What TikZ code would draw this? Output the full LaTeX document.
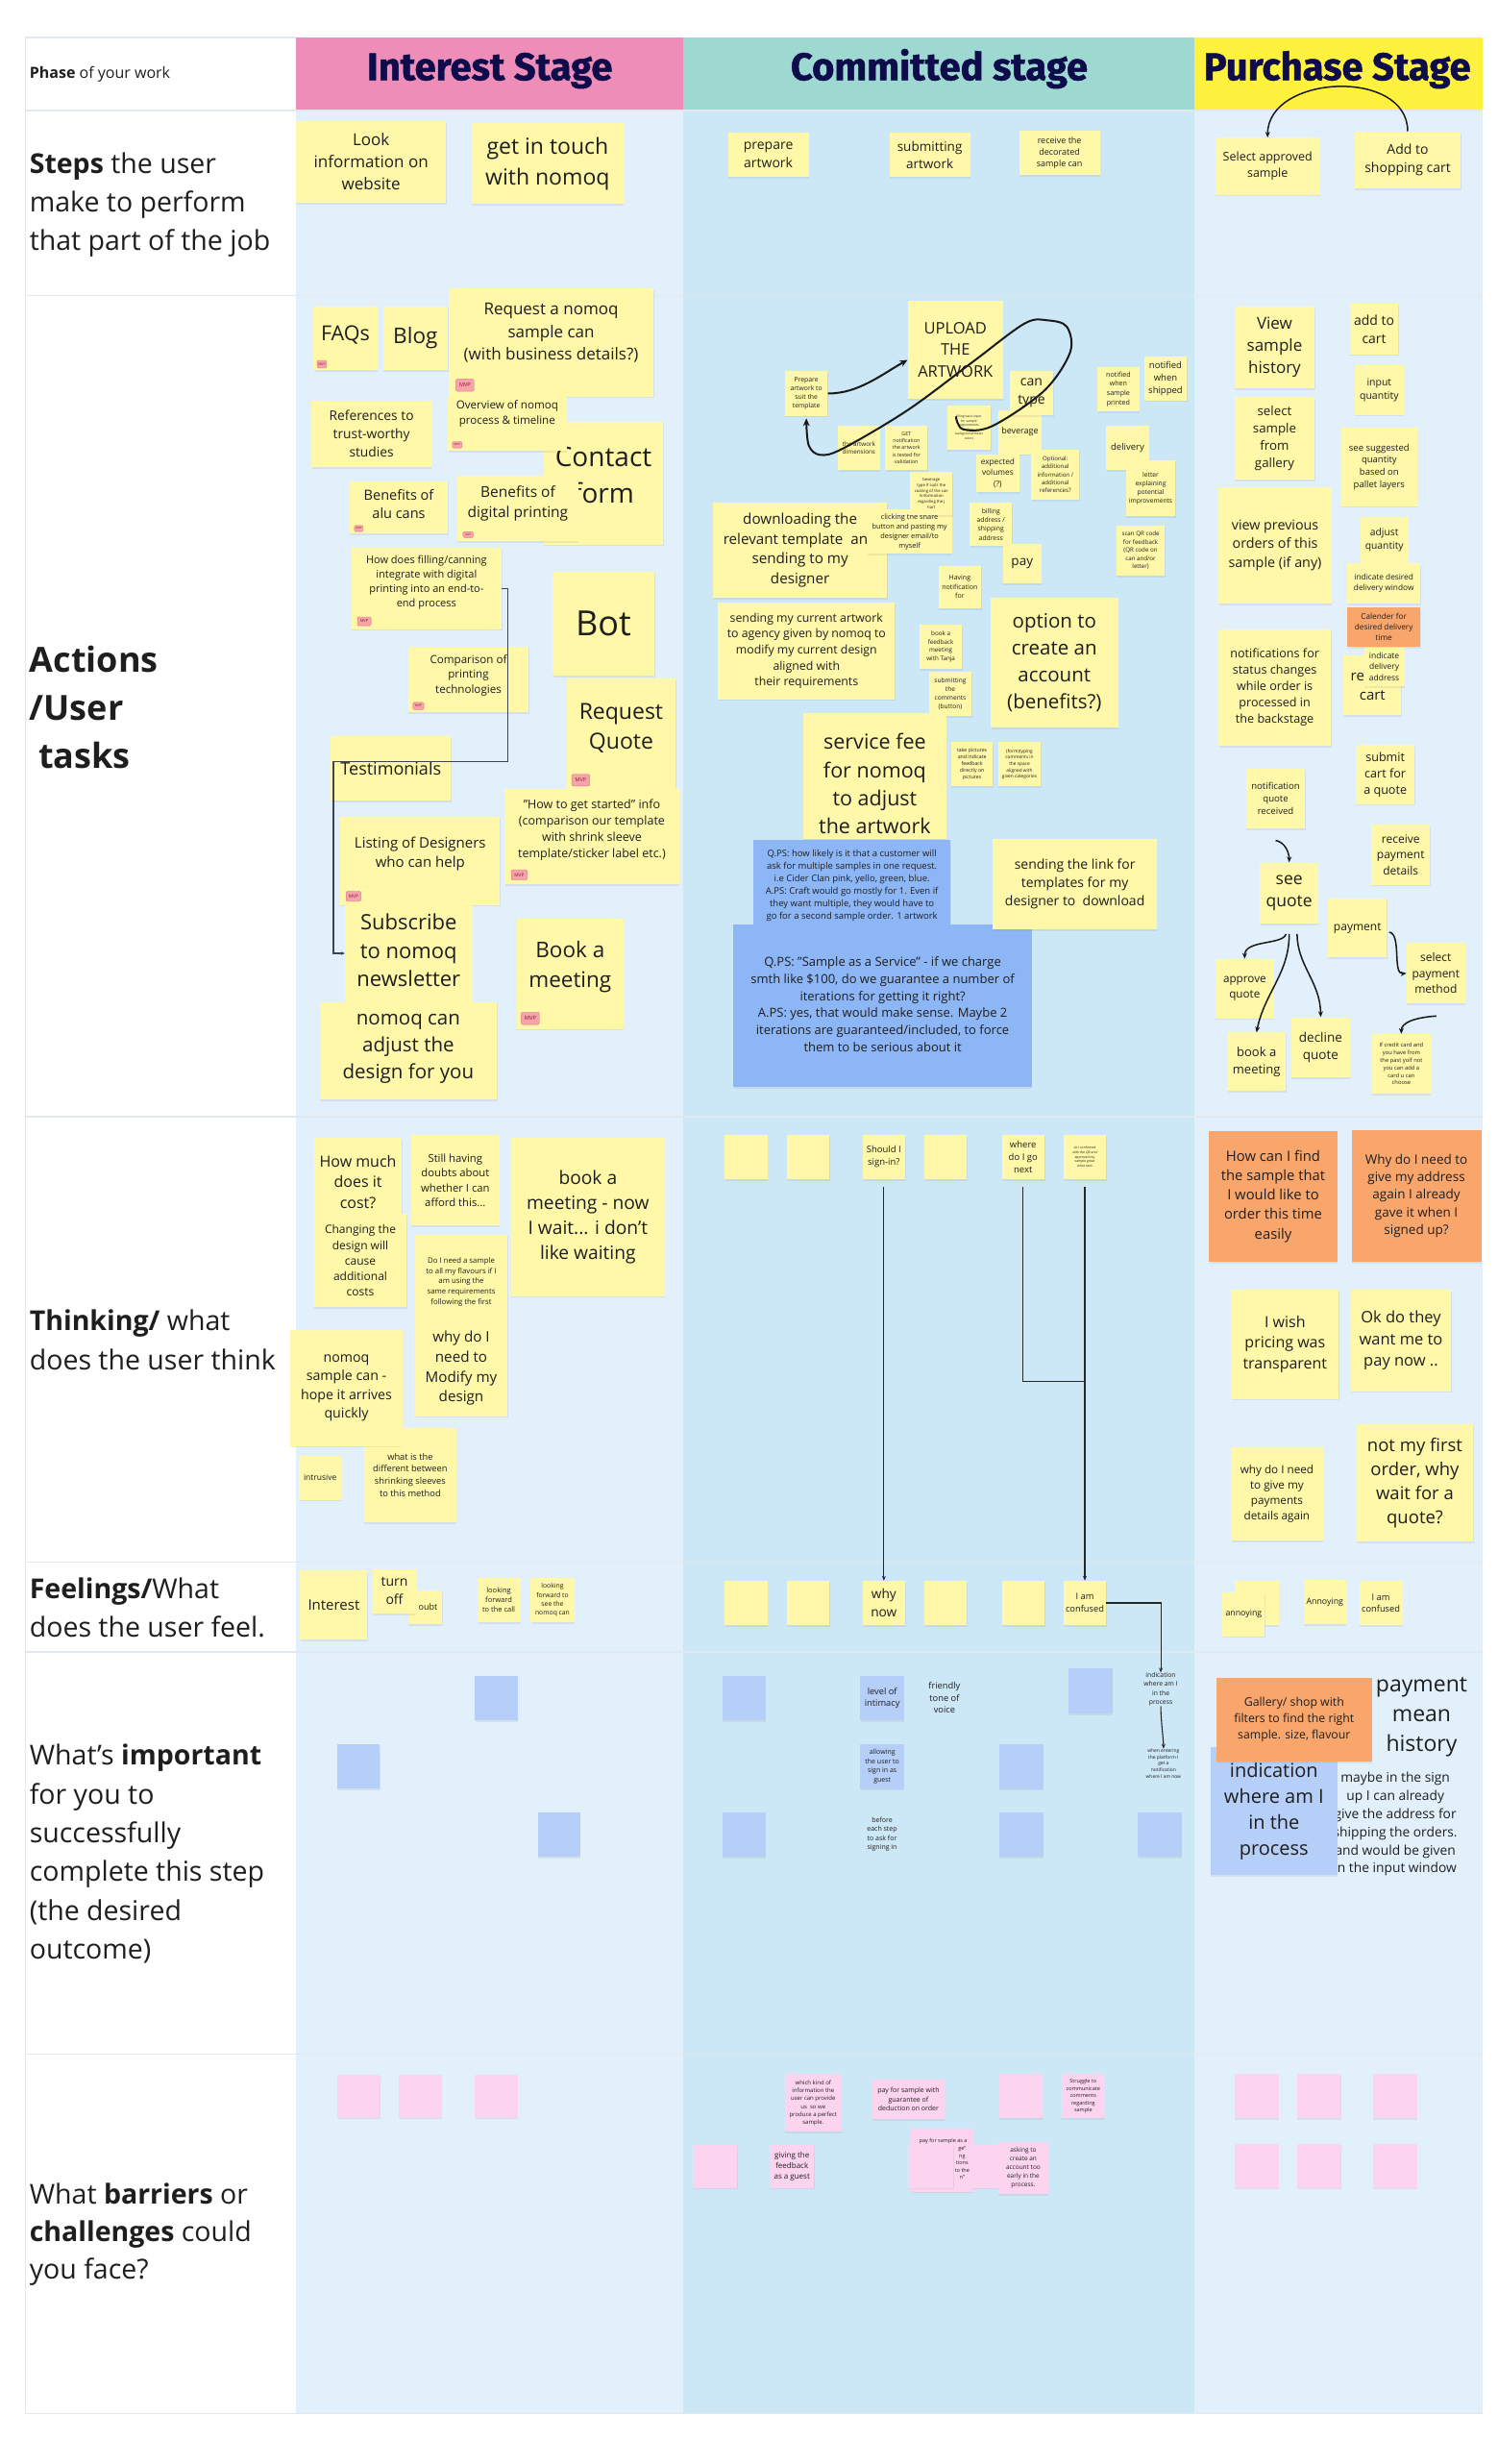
\documentclass[tikz,border=0pt]{standalone}
\usepackage{fontspec}
\setmainfont{Open Sans}
\newfontfamily\headfont{Fira Sans}[FakeBold=1.2]
\usetikzlibrary{shadows,calc,arrows.meta}
\def\unitf{1.647}
\definecolor{yelN}{HTML}{FFF8A8}
\definecolor{orgN}{HTML}{F9A66C}
\definecolor{qbN}{HTML}{8DB6F7}
\definecolor{lbN}{HTML}{B5CFF8}
\definecolor{pkN}{HTML}{FDD4EF}
\definecolor{bgA}{HTML}{E1F0FA}
\definecolor{bgB}{HTML}{CCE7F6}
\definecolor{hpink}{HTML}{EE8EB8}
\definecolor{hteal}{HTML}{9DD9D1}
\definecolor{hyel}{HTML}{FEF23F}
\definecolor{navy}{HTML}{0E0C4B}
\definecolor{gridC}{HTML}{E3E8EC}
\definecolor{txtC}{HTML}{1E1E1E}
\definecolor{mvpF}{HTML}{F5A4AC}
\definecolor{mvpD}{HTML}{E07A85}
\definecolor{mvpT}{HTML}{8B1A2B}
\definecolor{elbC}{HTML}{3D4450}
\tikzset{
  sticky/.style={inner sep=0pt, draw=none, drop shadow={opacity=0.13, shadow xshift=0.5pt, shadow yshift=-1.8pt}},
  ny/.style={sticky, fill=yelN},
  nor/.style={sticky, fill=orgN},
  nqb/.style={sticky, fill=qbN},
  nlb/.style={sticky, fill=lbN},
  npk/.style={sticky, fill=pkN},
  ntext/.style={inner sep=0pt, align=center, text=txtC},
  lab/.style={inner sep=0pt, align=left, anchor=west, text=txtC},
  mvptag/.style={inner sep=0pt, rounded corners=1.2pt, fill=mvpF, draw=mvpD, line width=0.4pt, text=mvpT},
  hdr/.style={inner sep=0pt, anchor=base, text=navy, font=\headfont\bfseries\fontsize{40}{48}\selectfont},
  gridl/.style={draw=gridC, line width=1.3pt},
  carr/.style={draw=black!90, line width=1.5pt, -{Stealth[length=6pt,width=5pt]}},
  loopa/.style={draw=black!90, line width=2pt, -{Stealth[length=8pt,width=7pt]}},
  arr/.style={draw=black!85, line width=1.1pt, -{Stealth[length=5pt,width=4pt]}},
  lnn/.style={draw=black!85, line width=1.1pt},
  elb/.style={draw=elbC, line width=1.4pt, -{Stealth[length=4pt,width=3.5pt]}},
}
% sticky note: [text y offset]{name}{x1}{y1}{x2}{y2}{style}{font size}{text}
\newcommand\snote[9][0]{%
  \pgfmathsetlengthmacro\nw{(#5-#3)*\unitf}%
  \pgfmathsetlengthmacro\nh{(#6-#4)*\unitf}%
  \pgfmathsetmacro\bsk{#8*1.36}%
  \node[#7,minimum width=\nw,minimum height=\nh] (#2) at ({(#3+#5)/2},{(#4+#6)/2}) {};
  \node[ntext,font=\fontsize{#8}{\bsk}\selectfont] (#2-t) at ({(#3+#5)/2},{(#4+#6)/2+#1}) {#9};}
% free text: {name}{x}{y}{size}{text}
\newcommand\ptext[5]{%
  \pgfmathsetmacro\bsk{#4*1.36}%
  \node[ntext,font=\fontsize{#4}{\bsk}\selectfont] (#1) at (#2,#3) {#5};}
% MVP tag
\newcommand\mvp[5]{%
  \pgfmathsetlengthmacro\nw{(#4-#2)*\unitf}%
  \pgfmathsetlengthmacro\nh{(#5-#3)*\unitf}%
  \pgfmathsetmacro\mf{(#5-#3)*\unitf*0.45}%
  \node[mvptag,minimum width=\nw,minimum height=\nh,font=\fontsize{\mf}{\mf}\selectfont] (#1) at ({(#2+#4)/2},{(#3+#5)/2}) {MVP};}
\begin{document}
\begin{tikzpicture}[x=1.647pt,y=-1.647pt]
\useasboundingbox (0,0) rectangle (946.57,1556.8);
\fill[white] (0,0) rectangle (946.57,1556.8);
% ---------- backgrounds
\fill[bgA] (187,69.8) rectangle (432,1525);
\fill[bgB] (432,69.8) rectangle (755,1525);
\fill[bgA] (755,69.8) rectangle (937,1525);
\fill[hpink] (187,23.7) rectangle (432,69.8);
\fill[hteal] (432,23.7) rectangle (755,69.8);
\fill[hyel] (755,23.7) rectangle (937,69.8);
\foreach \yy in {69.8,186.5,705.5,987,1043.7,1298,1525} \draw[gridl] (16,\yy) -- (937,\yy);
\draw[gridl] (16,23.7) -- (187,23.7);
\draw[gridl] (16,23.7) -- (16,1525);
% ---------- headers
\node[hdr] (hint) at (309.5,50.6) {Interest Stage};
\node[hdr] (hcom) at (593.5,50.6) {Committed stage};
\node[hdr] (hpur) at (845,50.6) {Purchase Stage};
% ---------- row labels
\node[lab,font=\fontsize{16}{20}\selectfont] (lphase) at (18.6,47) {\textbf{Phase} of your work};
\node[lab,font=\fontsize{28.5}{40}\selectfont] (lsteps) at (18.6,129.5) {\textbf{Steps} the user\\make to perform\\that part of the job};
\node[lab,font=\bfseries\fontsize{36}{50}\selectfont] (lact) at (18.6,447) {Actions\\/User\\~tasks};
\node[lab,font=\fontsize{28.5}{41}\selectfont] (lthink) at (18.6,846.5) {\textbf{Thinking/} what\\does the user think};
\node[lab,font=\fontsize{28.5}{40}\selectfont] (lfeel) at (18.6,1016) {\textbf{Feelings/}What\\does the user feel.};
\node[lab,font=\fontsize{28.5}{40.4}\selectfont] (limp) at (18.6,1171.3) {What's \textbf{important}\\for you to\\successfully\\complete this step\\(the desired\\outcome)};
\node[lab,font=\fontsize{28.5}{39}\selectfont] (lbar) at (18.6,1411.5) {What \textbf{barriers} or\\\textbf{challenges} could\\you face?};
% ---------- steps row
\snote{look}{187}{76.5}{282}{128}{ny}{17}{Look\\information on\\website}
\snote{touch}{298}{78}{394}{129}{ny}{23}{get in touch\\with nomoq}
\snote{prepa}{460}{84}{511}{112}{ny}{14}{prepare\\artwork}
\snote{subma}{562}{84}{613}{112}{ny}{13.5}{submitting\\artwork}
\snote{recv}{644}{82.5}{695}{110.5}{ny}{9}{receive the\\decorated\\sample can}
\snote{selap}{768}{87}{834}{123}{ny}{12.5}{Select approved\\sample}
\snote{addsc}{856}{83}{923}{119}{ny}{14}{Add to\\shopping cart}
\draw[carr] (addsc.north) .. controls +(0,-40) and +(0,-40) .. (selap.north);
% ---------- interest actions
\snote[-2]{faq}{198}{193.4}{238.5}{234}{ny}{21.5}{FAQs}
\snote{blog}{242}{193.4}{283}{234}{ny}{22.5}{Blog}
\snote[-6]{reqs}{283.5}{182}{413}{250.5}{ny}{17}{Request a nomoq\\sample can\\(with business details?)}
\snote{refs}{197}{253}{272.5}{295}{ny}{13.8}{References to\\trust-worthy\\studies}
\snote[-5]{contact}{343.6}{266.6}{419}{344}{ny}{28}{Contact\\form}
\snote[-6.5]{overview}{283}{251}{358}{285}{ny}{11.6}{Overview of nomoq\\process \& timeline}
\snote[-2]{alu}{221}{304}{283}{337}{ny}{14.5}{Benefits of\\alu cans}
\snote[-3]{digital}{289}{300.6}{365.5}{342}{ny}{15.5}{Benefits of\\digital printing}
\snote[-3.5]{filling}{222}{346}{317}{397.5}{ny}{11}{How does filling/canning\\integrate with digital\\printing into an end-to-\\end process}
\snote{bot}{349}{361}{413.5}{427}{ny}{36}{Bot}
\snote[-2.5]{compar}{258}{408.6}{334}{450}{ny}{11.6}{Comparison of\\printing\\technologies}
\snote[-3.7]{rquote}{358}{428.7}{427}{499}{ny}{23}{Request\\Quote}
\snote{testim}{209}{465}{285}{506}{ny}{18}{Testimonials}
\snote[-4.3]{started}{319}{498.5}{429}{558.6}{ny}{12.5}{"How to get started" info\\(comparison our template\\with shrink sleeve\\template/sticker label etc.)}
\snote[-4.3]{listing}{215}{516}{316}{571.7}{ny}{15}{Listing of Designers\\who can help}
\snote[-2]{subscr}{218}{571.7}{298.5}{633}{ny}{22}{Subscribe\\to nomoq\\newsletter}
\snote[-4.5]{bookm}{326.5}{580.5}{394}{650}{ny}{22.5}{Book a\\meeting}
\snote[-1]{adjust}{202}{633}{314}{694.6}{ny}{20.5}{nomoq can\\adjust the\\design for you}
\mvp{m1}{200.4}{227.7}{206.4}{232.5}
\mvp{m2}{288.2}{239.6}{299.5}{247.2}
\mvp{m3}{285.8}{279}{292}{283}
\mvp{m4}{224}{332}{229.5}{335.8}
\mvp{m5}{292.6}{336}{299}{339.6}
\mvp{m6}{225.9}{389.8}{234.4}{395.3}
\mvp{m7}{261}{443.8}{267.8}{448.4}
\mvp{m8}{361.3}{489.2}{372.6}{496.6}
\mvp{m9}{323.2}{549.5}{333}{556}
\mvp{m10}{218.8}{563}{227.9}{569.5}
\mvp{m11}{329.5}{639.5}{340.8}{647.3}
\coordinate (e1) at (321,481);
\coordinate (e2) at (210.6,481);
\draw[elb] (filling.east) -| (e1) -- (e2) |- (subscr.west);
% ---------- committed actions
\snote{upload}{573.6}{190}{633.8}{252}{ny}{16.5}{UPLOAD\\THE\\ARTWORK}
\snote{prep}{496}{234.4}{523}{262.7}{ny}{6.8}{Prepare\\artwork to\\suit the\\template}
\snote{dims}{529.6}{268.8}{556}{297}{ny}{6.3}{the artwork\\dimensions}
\snote{getn}{559.5}{269}{586}{297}{ny}{5.3}{GET\\notification\\the artwork\\is tested for\\validation}
\snote{billing}{598.6}{256}{626}{284}{ny}{3.3}{filling basic input\\for sample\\requirements\\colors\\background/metal\\colors}
\snote{bev}{631}{259}{658}{287}{ny}{9}{beverage}
\snote{cantype}{638}{234.4}{665.6}{262.4}{ny}{14}{can\\type}
\snote{expvol}{617}{287}{644}{311}{ny}{8.3}{expected\\volumes\\(?)}
\snote{optional}{651.7}{284}{682}{315.7}{ny}{6.1}{Optional:\\additional\\information /\\additional\\references?}
\snote{nsp}{693.4}{231.7}{720}{259.7}{ny}{7.1}{notified\\when\\sample\\printed}
\snote{nws}{723}{225}{750}{253}{ny}{9.5}{notified\\when\\shipped}
\snote{deliv}{699}{269}{726}{297}{ny}{9.5}{delivery}
\snote{letter}{711.5}{291}{742.7}{326}{ny}{6.7}{letter\\explaining\\potential\\improvements}
\snote{qr}{705.5}{332}{736}{363.7}{ny}{6.2}{scan QR code\\for feedback\\(QR code on\\can and/or\\letter)}
\snote{download}{450.6}{317.7}{560.5}{377.5}{ny}{15.2}{downloading the\\relevant template\ \ an\phantom{d}\\sending to my\\designer}
\snote{click}{548}{322}{601.5}{350}{ny}{7.4}{clicking the share\\button and pasting my\\designer email/to\\myself}
\snote{bevtype}{575}{298}{602}{325.5}{ny}{4.2}{beverage\\type if suits the\\coating of the can\\/information\\regarding the j\\hart}
\snote{billaddr}{612.8}{317.7}{639.5}{345}{ny}{6.8}{billing\\address /\\shipping\\address}
\snote{pay}{633.8}{343.7}{658}{368.4}{ny}{13.5}{pay}
\snote{havenot}{593}{357.4}{620}{384.4}{ny}{7}{Having\\notification\\for}
\snote{sendcur}{453.7}{380.7}{565.5}{441.8}{ny}{12.3}{sending my current artwork\\to agency given by nomoq to\\modify my current design\\aligned with\\their requirements}
\snote{bookfb}{581}{394.7}{608}{422.6}{ny}{6.3}{book a\\feedback\\meeting\\with Tanja}
\snote{subcom}{587}{424.5}{614}{452.3}{ny}{6.6}{submitting\\the\\comments\\(button)}
\snote{option}{626}{377.5}{706.5}{459.8}{ny}{20.5}{option to\\create an\\account\\(benefits?)}
\snote[5]{svcfee}{507.6}{450.5}{598}{530}{ny}{21.5}{service fee\\for nomoq\\to adjust\\the artwork}
\snote{takepic}{601}{469}{627.5}{496.7}{ny}{5.2}{take pictures\\and indicate\\feedback\\directly on\\pictures}
\snote{formtyp}{630.7}{469}{657.7}{496.7}{ny}{4.8}{(form)typing\\comments in\\the space\\aligned with\\given categories}
\snote[2]{qps1}{476}{530.7}{600.7}{584}{nqb}{9.5}{Q.PS: how likely is it that a customer will\\ask for multiple samples in one request.\\i.e Cider Clan pink, yello, green, blue.\\A.PS: Craft would go mostly for 1. Even if\\they want multiple, they would have to\\go for a second sample order. 1 artwork}
\snote[-1]{qps2}{463.5}{584}{652}{687}{nqb}{13}{Q.PS: "Sample as a Service" - if we charge\\smth like \$100, do we guarantee a number of\\iterations for getting it right?\\A.PS: yes, that would make sense. Maybe 2\\iterations are guaranteed/included, to force\\them to be serious about it}
\snote{sendlink}{627.4}{530}{731}{587}{ny}{14}{sending the link for\\templates for my\\designer to\ \ download}
\draw[loopa] (prep.east) .. controls (542,249) and (558,236) .. (upload.192);
\coordinate (loopend) at ($(prep.south)+(0,1.5)$);
\draw[loopa] plot[smooth,tension=0.55] coordinates {(604,263.1) (608.5,271.2) (627,269.2) (659.8,246.9) (676.2,222.6) (674.1,206.4) (661.9,202.4) (647.4,204.4) (614.6,228.7) (573.6,259.1) (532.6,283.4) (518.3,287.4) (511,281.3) (loopend)};
% ---------- purchase actions
\snote{viewh}{780}{193.8}{830.8}{245.3}{ny}{17}{View\\sample\\history}
\snote{addcart}{853}{192}{883.6}{223.8}{ny}{14}{add to\\cart}
\snote{selg}{780}{251}{830.8}{303}{ny}{13.3}{select\\sample\\from\\gallery}
\snote{inputq}{856}{231}{887}{262}{ny}{10.5}{input\\quantity}
\snote{suggest}{847.5}{270.4}{895.5}{319.7}{ny}{9.5}{see suggested\\quantity\\based on\\pallet layers}
\snote{viewprev}{770}{307.7}{841.5}{381.3}{ny}{14.3}{view previous\\orders of this\\sample (if any)}
\snote{adjq}{859.5}{326.4}{890}{356}{ny}{10.3}{adjust\\quantity}
\snote{deswin}{851.4}{356}{897.5}{381.3}{ny}{8.3}{indicate desired\\delivery window}
\snote{calend}{851.4}{383.7}{897.5}{408.6}{nor}{8.2}{Calender for\\desired delivery\\time}
\snote{recart}{849}{414}{885.5}{451.7}{ny}{15}{re\phantom{view}\\cart}
\snote{deladdr}{862}{409}{887.4}{433.5}{ny}{8.5}{indicate\\delivery\\address}
\snote{notifst}{770}{397.7}{841}{471}{ny}{12.6}{notifications for\\status changes\\while order is\\processed in\\the backstage}
\snote{submitc}{856.7}{470.6}{894}{508}{ny}{12.6}{submit\\cart for\\a quote}
\snote{nqr}{787.4}{485.7}{824.7}{523.4}{ny}{9.6}{notification\\quote\\received}
\snote{recvpay}{866.6}{521}{903.6}{559}{ny}{12}{receive\\payment\\details}
\snote{seeq}{796.3}{545}{833}{583.5}{ny}{17.5}{see\\quote}
\snote{payment}{839.3}{567.5}{876.3}{605}{ny}{12}{payment}
\snote{selpay}{888.8}{595.8}{925.8}{634}{ny}{12}{select\\payment\\method}
\snote{approve}{768}{605.8}{805}{643.4}{ny}{11.7}{approve\\quote}
\snote{bookm2}{775.5}{652.4}{812.5}{689.4}{ny}{13}{book a\\meeting}
\snote{decline}{816}{642.7}{853}{680.6}{ny}{13.5}{decline\\quote}
\snote{credit}{867}{653.3}{904}{691}{ny}{5.8}{If credit card and\\you have from\\the past yolf not\\you can add a\\card u can\\choose}
\coordinate (nq1) at ($(nqr.south)+(0,7.5)$);
\draw[carr] (nq1) .. controls +(6,1) and +(0,-6) .. (seeq.north);
\draw[carr] ($(seeq.south)+(-2,6.5)$) .. controls +(-2,7) and +(0,-12) .. (approve.north);
\draw[carr] ($(seeq.south)+(0,6.5)$) .. controls +(0,25) and +(5,-25) .. (bookm2.north);
\draw[carr] ($(seeq.south)+(5,6.5)$) .. controls +(0,20) and +(0,-22) .. (decline.north);
\draw[carr] ($(payment.east)+(1.4,2.7)$) .. controls +(8,1) and +(-9,1) .. (selpay.west);
\draw[carr] ($(selpay.south)+(0.3,7.8)$) .. controls +(-14,1) and +(0,-7) .. (credit.north);
% ---------- thinking row
\snote[3.7]{howmuch}{198.4}{719}{254}{767}{ny}{16}{How much\\does it\\cost?}
\snote{changing}{198.4}{767}{257}{826}{ny}{12}{Changing the\\design will\\cause\\additional\\costs}
\snote{still}{259.7}{717}{315.7}{774.4}{ny}{11.3}{Still having\\doubts about\\whether I can\\afford this...}
\snote{doineed}{262.3}{780}{320.6}{839.7}{ny}{7.8}{Do I need a sample\\to all my flavours if I\\am using the\\same requirements\\following the first}
\snote{bookwait}{323}{719}{420}{818.8}{ny}{19.2}{book a\\meeting - now\\I wait... i don't\\like waiting}
\snote{whatdiff}{230}{902}{288.4}{961.7}{ny}{9.3}{what is the\\different between\\shrinking sleeves\\to this method}
\snote{hopeq}{183.4}{840.3}{254.4}{913.5}{ny}{14.2}{nomoq\\sample can -\\hope it arrives\\quickly}
\snote[-2.6]{whymod}{262.3}{839.7}{320.6}{894.7}{ny}{15.2}{why do I\\need to\\Modify my\\design}
\snote{intrus}{188.6}{919.6}{216}{947.6}{ny}{8.5}{intrusive}
\snote{th1}{458}{717}{485}{745}{ny}{9}{}
\snote{th2}{497}{717}{524}{745}{ny}{9}{}
\snote{sign}{545}{717}{572}{745}{ny}{9.5}{Should I\\sign-in?}
\snote{th4}{584}{717}{611}{745}{ny}{9}{}
\snote{where}{633}{717}{660}{745}{ny}{9.5}{where\\do I go\\next}
\snote{okc}{672}{717}{699}{745}{ny}{3.4}{ok I confirmed\\with the QR and\\approved my\\sample great\\what next}
\snote{howfind}{764}{714.6}{845}{797.2}{nor}{14.8}{How can I find\\the sample that\\I would like to\\order this time\\easily}
\snote{whyaddr}{854}{714}{936}{797.2}{nor}{13.5}{Why do I need to\\give my address\\again I already\\gave it when I\\signed up?}
\snote{iwish}{778}{814.8}{846}{883.8}{ny}{16}{I wish\\pricing was\\transparent}
\snote{okdo}{853.5}{814.8}{917}{878.9}{ny}{16.5}{Ok do they\\want me to\\pay now ..}
\snote{whypay}{777.8}{914.2}{836}{973.2}{ny}{11.7}{why do I need\\to give my\\payments\\details again}
\snote{notfirst}{857.3}{899.8}{930.8}{973.9}{ny}{18.5}{not my first\\order, why\\wait for a\\quote?}
% ---------- feelings row
\snote{finter}{189.7}{992}{232.2}{1035.8}{ny}{15}{Interest}
\snote{fdoubt}{258}{1004.9}{279.5}{1026}{ny}{9}{}
\ptext{fdoubtt}{270.5}{1015.5}{9}{oubt}
\snote{fturn}{235.6}{991.3}{262.9}{1019.5}{ny}{14}{turn\\off}
\snote{flfc}{301.5}{996.8}{328.8}{1025}{ny}{7.5}{looking\\forward\\to the call}
\snote{flfs}{335.2}{996.8}{363}{1025}{ny}{6.8}{looking\\forward to\\see the\\nomoq can}
\snote{fe1}{458}{998.8}{485}{1026.7}{ny}{9}{}
\snote{fe2}{497}{998.8}{524}{1026.7}{ny}{9}{}
\snote{whynow}{545}{998.8}{572}{1026.7}{ny}{13.7}{why\\now}
\snote{fe4}{584}{998.8}{611}{1026.7}{ny}{9}{}
\snote{fe5}{633}{998.8}{660}{1026.7}{ny}{9}{}
\snote{confused}{672}{998.8}{699}{1026.7}{ny}{9.3}{I am\\confused}
\snote{fannb}{780}{998.8}{808}{1026.7}{ny}{9}{}
\snote{fannf}{772.5}{1006}{799.3}{1033.8}{ny}{8.8}{annoying}
\snote{fAnn}{823.7}{998.2}{850.6}{1026.2}{ny}{8.8}{Annoying}
\snote{fconf}{858.9}{998.8}{886.2}{1027}{ny}{9.3}{I am\\confused}
% ---------- important row
\snote{imp1}{300}{1059}{327}{1087}{nlb}{9}{}
\snote{imp2}{213}{1102}{240}{1130}{nlb}{9}{}
\snote{imp3}{340}{1145}{366.5}{1173}{nlb}{9}{}
\snote{ib1}{456.3}{1059}{483.7}{1086.8}{nlb}{9}{}
\snote{intim}{543.7}{1059}{571.3}{1086.8}{nlb}{9.3}{level of\\intimacy}
\ptext{friendly}{596.8}{1072.7}{9.3}{friendly\\tone of\\voice}
\snote{ib2}{675.2}{1054}{703}{1082.4}{nlb}{9}{}
\ptext{indtxt}{733.5}{1067.3}{6.8}{indication\\where am I\\in the\\process}
\ptext{whenent}{735.2}{1114.2}{4.9}{when entering\\the platform I\\get a\\notification\\where I am now}
\snote{allow}{543.7}{1102}{571.3}{1130.3}{nlb}{7}{allowing\\the user to\\sign in as\\guest}
\snote{ib3}{631.4}{1102}{659.1}{1130.3}{nlb}{9}{}
\snote{ib4}{456.3}{1145}{483.7}{1173.2}{nlb}{9}{}
\ptext{before}{557.4}{1159}{7}{before\\each step\\to ask for\\signing in}
\snote{ib5}{631.4}{1145}{659.1}{1173.2}{nlb}{9}{}
\snote{ib6}{718.9}{1145}{746.8}{1173.2}{nlb}{9}{}
\ptext{paymh}{898.3}{1084.8}{23}{payment\\mean\\history}
\ptext{maybe}{881.7}{1152.6}{13.8}{maybe in the sign\\up I can already\\give the address for\\shipping the orders.\\and would be given\\in the input window}
\snote{indblue}{765}{1104}{845}{1184.6}{nlb}{20}{indication\\where am I\\in the\\process}
\snote{gallery}{768.5}{1060}{867}{1113}{nor}{12.3}{Gallery/ shop with\\filters to find the right\\sample. size, flavour}
% ---------- thinking/feeling connectors
\draw[arr] ($(sign.south)+(0,5)$) -- (whynow.north);
\coordinate (wj) at (685.5,872.8);
\draw[lnn] ($(where.south)+(0,5)$) |- (wj);
\draw[arr] ($(okc.south)+(0,5)$) -- (confused.north);
\draw[arr] (confused.east) -| (indtxt.north);
\draw[arr] (indtxt.south) .. controls +(0,9) and +(0,-6) .. (whenent.north);
% ---------- barriers row
\snote{pk1}{213}{1311}{240}{1338}{npk}{9}{}
\snote{pk2}{252}{1311}{279}{1338}{npk}{9}{}
\snote{pk3}{300}{1311}{327}{1338}{npk}{9}{}
\snote{which}{496}{1310.5}{531.7}{1346.9}{npk}{6}{which kind of\\information the\\user can provide\\us\ \ so we\\produce a perfect\\sample.}
\snote{paywith}{551.3}{1314}{596.8}{1338.8}{npk}{7}{pay for sample with\\guarantee of\\deduction on order}
\snote{pke1}{631.4}{1310.5}{659.1}{1338.2}{npk}{9}{}
\snote{struggle}{670.8}{1310.5}{698.2}{1338.2}{npk}{5.5}{Struggle to\\communicate\\comments\\regarding\\sample}
\snote{pke2}{438}{1355}{465.7}{1382.3}{npk}{9}{}
\snote{giving}{486.6}{1355}{514.3}{1382.3}{npk}{8}{giving the\\feedback\\as a guest}
\snote{pkgb}{575.7}{1344.8}{615}{1384.7}{npk}{5.5}{}
\ptext{pkgbt}{596}{1353}{5.5}{pay for sample as a}
\ptext{pkgbr}{608}{1366.5}{5.5}{ge"\\ng\\tions\\to the\\n"}
\snote{pkgf}{574}{1355}{602.4}{1382.3}{npk}{9}{}
\snote{pkgm}{614}{1355}{632.4}{1382.3}{npk}{9}{}
\snote{asking}{630.8}{1353.4}{662.4}{1386}{npk}{6.5}{asking to\\create an\\account too\\early in the\\process.}
\snote{pb1}{780.2}{1310.5}{808}{1338.2}{npk}{9}{}
\snote{pb2}{819.6}{1310.5}{847.3}{1338.2}{npk}{9}{}
\snote{pb3}{867.6}{1310.5}{895.3}{1338.2}{npk}{9}{}
\snote{pb4}{780.2}{1354.6}{808}{1382.3}{npk}{9}{}
\snote{pb5}{819.6}{1354.6}{847.3}{1382.3}{npk}{9}{}
\snote{pb6}{867.6}{1354.6}{895.3}{1382.3}{npk}{9}{}
\end{tikzpicture}
\end{document}
